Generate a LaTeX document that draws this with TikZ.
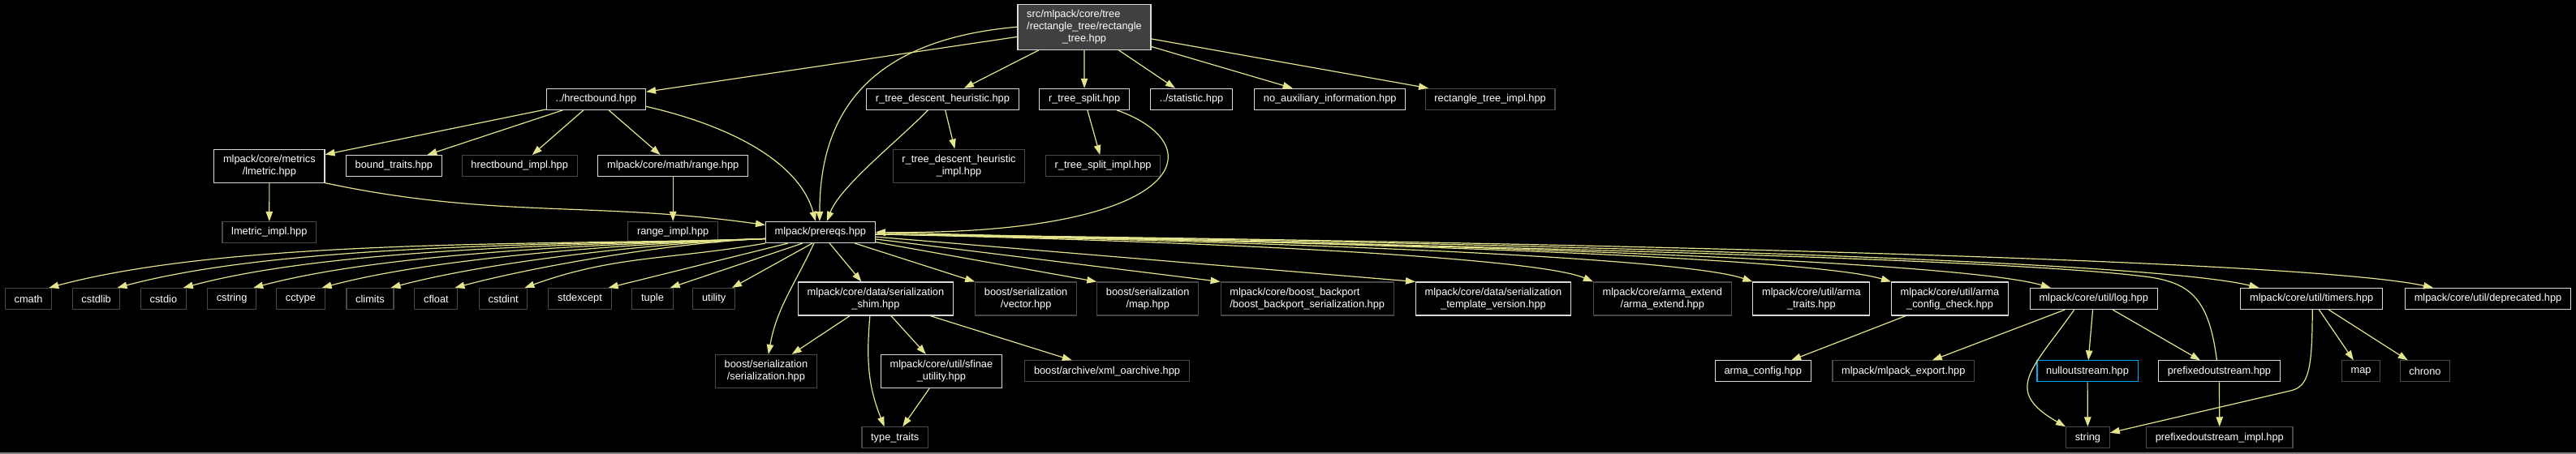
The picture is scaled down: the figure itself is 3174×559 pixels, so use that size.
\documentclass[tikz,border=0pt]{standalone}
\usepackage{fontspec}
\setmainfont{Liberation Sans}
\usetikzlibrary{arrows.meta}
\definecolor{edgeyel}{RGB}{228,228,140}
\definecolor{rootgrey}{RGB}{64,64,64}
\definecolor{extgrey}{RGB}{72,72,72}

\begin{document}
\begin{tikzpicture}[x=0.5pt,y=0.5pt,
  docbox/.style={draw=white!85!black,line width=0.55pt,fill=black,text=white,align=center,
    font=\fontsize{6.4}{7.5}\selectfont,inner xsep=5.6pt,inner ysep=2pt,minimum height=13pt},
  extbox/.style={docbox,draw=extgrey},
  hlbox/.style={docbox,draw=cyan},
  rootbox/.style={docbox,fill=rootgrey,minimum height=28pt},
  tall/.style={minimum height=20.5pt},
  arr/.style={-{Triangle[length=6pt,width=4.2pt]},line width=0.6pt,color=edgeyel}
]
\useasboundingbox (0,0) rectangle (3174,-559);
\fill[black] (0,0) rectangle (3174,-559);
\draw[gray,line width=1pt] (0,-558.5) -- (3174,-558.5);
\node[rootbox] (root) at (1336,-33.2) {\begin{tabular}{@{}l@{}}src/mlpack/core/tree\\/rectangle\_tree/rectangle\\\multicolumn{1}{@{}c@{}}{\_tree.hpp}\end{tabular}};
\node[docbox] (hrb) at (734.5,-122.3) {../hrectbound.hpp};
\node[docbox] (rtdh) at (1161.4,-122.3) {r\_tree\_descent\_heuristic.hpp};
\node[docbox] (rts) at (1336.1,-122.3) {r\_tree\_split.hpp};
\node[docbox] (stat) at (1468.1,-122.3) {../statistic.hpp};
\node[docbox] (noaux) at (1638.7,-122.3) {no\_auxiliary\_information.hpp};
\node[extbox] (rtimpl) at (1836.1,-122.3) {rectangle\_tree\_impl.hpp};
\node[docbox,tall] (lmetric) at (331.9,-204.6) {mlpack/core/metrics\\/lmetric.hpp};
\node[docbox] (btraits) at (485.4,-204.6) {bound\_traits.hpp};
\node[extbox] (hrbimpl) at (640.2,-204.6) {hrectbound\_impl.hpp};
\node[docbox] (range) at (829.2,-204.6) {mlpack/core/math/range.hpp};
\node[extbox,tall] (rtdhimpl) at (1181.5,-204.6) {r\_tree\_descent\_heuristic\\\_impl.hpp};
\node[extbox] (rtsimpl) at (1359.1,-204.6) {r\_tree\_split\_impl.hpp};
\node[extbox] (lmimpl) at (331.8,-286.5) {lmetric\_impl.hpp};
\node[extbox] (rgimpl) at (829.2,-286.5) {range\_impl.hpp};
\node[docbox] (prereqs) at (1010.9,-286.5) {mlpack/prereqs.hpp};
\node[extbox] (cmath) at (35.1,-368.5) {cmath};
\node[extbox] (cstdlib) at (118.6,-368.5) {cstdlib};
\node[extbox] (cstdio) at (201.4,-368.5) {cstdio};
\node[extbox] (cstring) at (285.6,-368.5) {cstring};
\node[extbox] (cctype) at (370.4,-368.5) {cctype};
\node[extbox] (climits) at (456,-368.5) {climits};
\node[extbox] (cfloat) at (537.4,-368.5) {cfloat};
\node[extbox] (cstdint) at (620.2,-368.5) {cstdint};
\node[extbox] (stdexcept) at (714.5,-368.5) {stdexcept};
\node[extbox] (tuple) at (804,-368.5) {tuple};
\node[extbox] (utility) at (879.7,-368.5) {utility};
\node[docbox,tall] (shim) at (1078.9,-368.5) {mlpack/core/data/serialization\\\_shim.hpp};
\node[extbox,tall] (bvector) at (1264.1,-368.5) {boost/serialization\\/vector.hpp};
\node[extbox,tall] (bmap) at (1414.2,-368.5) {boost/serialization\\/map.hpp};
\node[extbox,tall,align=left] (backport) at (1610.7,-368.5) {mlpack/core/boost\_backport\\/boost\_backport\_serialization.hpp};
\node[docbox,tall] (tmplver) at (1840,-368.5) {mlpack/core/data/serialization\\\_template\_version.hpp};
\node[extbox,tall] (armaext) at (2048.3,-368.5) {mlpack/core/arma\_extend\\/arma\_extend.hpp};
\node[docbox,tall] (armatraits) at (2231.9,-368.5) {mlpack/core/util/arma\\\_traits.hpp};
\node[docbox,tall] (armacheck) at (2402.5,-368.5) {mlpack/core/util/arma\\\_config\_check.hpp};
\node[docbox] (log) at (2579.7,-368.5) {mlpack/core/util/log.hpp};
\node[docbox] (timers) at (2848.2,-368.5) {mlpack/core/util/timers.hpp};
\node[docbox] (deprec) at (3065.5,-368.5) {mlpack/core/util/deprecated.hpp};
\node[extbox,tall] (bser) at (943.9,-458) {boost/serialization\\/serialization.hpp};
\node[docbox,tall] (sfinae) at (1159.9,-458) {mlpack/core/util/sfinae\\\_utility.hpp};
\node[extbox] (xmlo) at (1364,-457.9) {boost/archive/xml\_oarchive.hpp};
\node[docbox] (armacfg) at (2172.2,-457.9) {arma\_config.hpp};
\node[extbox] (mlexport) at (2345.3,-457.9) {mlpack/mlpack\_export.hpp};
\node[hlbox] (nullos) at (2572,-457.9) {nulloutstream.hpp};
\node[docbox] (pfxos) at (2734.4,-457.9) {prefixedoutstream.hpp};
\node[extbox] (stdmap) at (2909.1,-457.9) {map};
\node[extbox] (chrono) at (2987.9,-457.9) {chrono};
\node[extbox] (ttraits) at (1102.7,-539.8) {type\_traits};
\node[extbox] (string) at (2572.4,-539.8) {string};
\node[extbox] (pfximpl) at (2734.8,-539.8) {prefixedoutstream\_impl.hpp};
\draw[arr] (root)--(hrb);
\draw[arr] (root.west) .. controls (1060,-50) and (1010,-150) .. ([xshift=-0.5pt]prereqs.north);
\draw[arr] (root)--(rtdh);
\draw[arr] (root)--(rts);
\draw[arr] (root)--(stat);
\draw[arr] (root)--(noaux);
\draw[arr] (root)--(rtimpl);
\draw[arr] (hrb)--(lmetric);
\draw[arr] (hrb)--(btraits);
\draw[arr] (hrb)--(hrbimpl);
\draw[arr] (hrb)--(range);
\draw[arr] ([yshift=-4.5pt]hrb.east) .. controls (900,-155) and (985,-200) .. ([xshift=-3pt]prereqs.north);
\draw[arr] (rtdh)--(rtdhimpl);
\draw[arr] ([xshift=-9pt]rtdh.south) .. controls (1105,-175) and (1035,-230) .. ([xshift=4pt]prereqs.north);
\draw[arr] (rts)--(rtsimpl);
\draw[arr] ([xshift=20pt]rts.south) .. controls (1500,-180) and (1460,-290) .. (prereqs.east);
\draw[arr] (lmetric)--(lmimpl);
\draw[arr] (lmetric.south east) to[out=-12,in=172] ([yshift=4.5pt]prereqs.west);
\draw[arr] (range)--(rgimpl);
\draw[arr] ([yshift=-4pt]prereqs.west) to[out=182,in=15,looseness=0.7] ([xshift=-2pt]cmath.north east);
\draw[arr] ([yshift=-4pt]prereqs.west) to[out=182,in=15,looseness=0.7] ([xshift=-2pt]cstdlib.north east);
\draw[arr] ([yshift=-4pt]prereqs.west) to[out=182,in=15,looseness=0.7] ([xshift=-2pt]cstdio.north east);
\draw[arr] ([yshift=-4pt]prereqs.west) to[out=182,in=15,looseness=0.7] ([xshift=-2pt]cstring.north east);
\draw[arr] ([yshift=-4pt]prereqs.west) to[out=182,in=15,looseness=0.7] ([xshift=-2pt]cctype.north east);
\draw[arr] ([yshift=-4pt]prereqs.west) to[out=182,in=15,looseness=0.7] ([xshift=-2pt]climits.north east);
\draw[arr] ([yshift=-4pt]prereqs.west) to[out=182,in=15,looseness=0.7] ([xshift=-2pt]cfloat.north east);
\draw[arr] (prereqs.south west) to[out=190,in=20] ([xshift=-2pt]cstdint.north east);
\draw[arr] ([xshift=-20pt]prereqs.south) -- ([xshift=-2pt]stdexcept.north east);
\draw[arr] ([xshift=-11pt]prereqs.south) -- ([xshift=-2pt]tuple.north east);
\draw[arr] ([xshift=-5pt]prereqs.south) -- ([xshift=-2pt]utility.north east);
\draw[arr] ([xshift=-4pt]prereqs.south) to[out=-115,in=80] ([xshift=1.5pt]bser.north);
\draw[arr] (prereqs)--(shim);
\draw[arr] (prereqs)--(bvector.north west);
\draw[arr] (prereqs)--(bmap.north west);
\draw[arr] (prereqs)--(backport.north west);
\draw[arr] (prereqs)--(tmplver.north west);
\draw[arr] (prereqs.-2) .. controls (1503,-298) and (1894,-318) .. (armaext.north west);
\draw[arr] (prereqs.-2) .. controls (1597,-298) and (2075,-318) .. (armatraits.north west);
\draw[arr] (prereqs.-2) .. controls (1679,-298) and (2233,-318) .. (armacheck.north west);
\draw[arr] (prereqs.-2) .. controls (1773,-299) and (2414,-322) .. ([xshift=13pt]log.north west);
\draw[arr] (prereqs.-2) .. controls (1896,-299) and (2651,-322) .. ([xshift=11.5pt]timers.north west);
\draw[arr] (prereqs.-2) .. controls (2000,-299) and (2849,-322) .. ([xshift=17.5pt]deprec.north west);
\draw[arr] (shim)--(bser);
\draw[arr] (shim)--(sfinae);
\draw[arr] (shim)--(xmlo);
\draw[arr] ([xshift=-3.5pt]shim.south) to[out=-95,in=112] ([xshift=-6.5pt]ttraits.north);
\draw[arr] (sfinae)--(ttraits);
\draw[arr] (armacheck)--(armacfg);
\draw[arr] (log)--(mlexport);
\draw[arr] (log)--(nullos);
\draw[arr] (log)--(pfxos);
\draw[arr] ([xshift=-12pt]log.south) to[out=-125,in=150,looseness=1.6] (string.north west);
\draw[arr] (nullos)--(string);
\draw[arr] (pfxos)--(pfximpl);
\draw[arr] ([xshift=-1.5pt]pfxos.north) .. controls (2722,-370) and (2700,-350) .. (2650,-342) .. controls (2450,-315) and (1600,-300) .. (prereqs.east);
\draw[arr] (timers)--(stdmap);
\draw[arr] (timers)--(chrono);
\draw[arr] ([xshift=0.5pt]timers.south) .. controls (2849,-455) and (2845,-477) .. (2822,-482) -- ([yshift=3pt]string.east);
\end{tikzpicture}
\end{document}
